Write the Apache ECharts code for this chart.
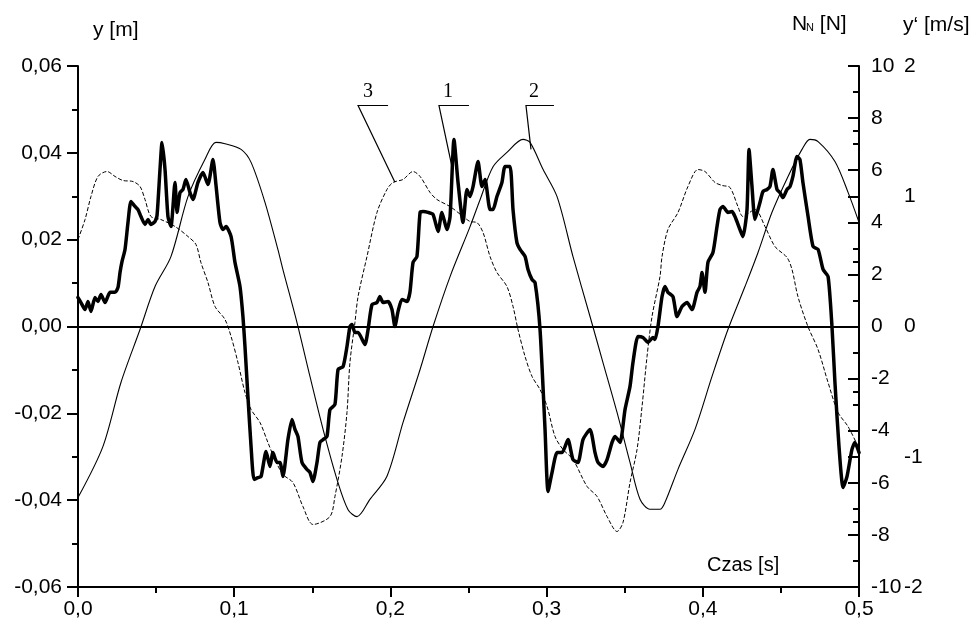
<!DOCTYPE html>
<html><head><meta charset="utf-8">
<script src="https://cdn.jsdelivr.net/npm/echarts@6/dist/echarts.min.js"></script>
<style>html,body{margin:0;padding:0;background:#fff}#c{width:976px;height:625px}</style>
</head><body><div id="c"></div>
<script>
// ---- Data ----
// Curve 1: normal force N_N [N] (thick line)
const timeForce = [0,0.0019,0.0045,0.0064,0.0083,0.0109,0.0128,0.0147,0.0173,0.0205,0.0237,0.0256,0.0269,0.0282,0.0301,0.0320,0.0339,0.0365,0.0384,0.0403,0.0429,0.0448,0.0467,0.0493,0.0506,0.0525,0.0538,0.0557,0.0576,0.0595,0.0621,0.0634,0.0653,0.0672,0.0691,0.0717,0.0736,0.0768,0.0800,0.0832,0.0864,0.0883,0.0909,0.0928,0.0948,0.0980,0.1005,0.1037,0.1056,0.1069,0.1088,0.1108,0.1127,0.1152,0.1172,0.1204,0.1229,0.1248,0.1274,0.1293,0.1312,0.1344,0.1370,0.1389,0.1408,0.1434,0.1466,0.1485,0.1504,0.1530,0.1549,0.1569,0.1594,0.1613,0.1645,0.1665,0.1697,0.1722,0.1741,0.1754,0.1773,0.1793,0.1837,0.1857,0.1882,0.1914,0.1933,0.1953,0.1985,0.2010,0.2029,0.2049,0.2074,0.2106,0.2125,0.2145,0.2170,0.2190,0.2209,0.2241,0.2273,0.2305,0.2330,0.2362,0.2382,0.2407,0.2433,0.2465,0.2490,0.2510,0.2529,0.2561,0.2586,0.2606,0.2638,0.2657,0.2682,0.2714,0.2734,0.2766,0.2785,0.2810,0.2830,0.2862,0.2881,0.2907,0.2926,0.2958,0.2990,0.3009,0.3035,0.3067,0.3099,0.3137,0.3169,0.3201,0.3233,0.3278,0.3310,0.3329,0.3361,0.3387,0.3419,0.3438,0.3470,0.3502,0.3534,0.3553,0.3585,0.3617,0.3649,0.3681,0.3694,0.3713,0.3739,0.3758,0.3777,0.3809,0.3835,0.3867,0.3899,0.3931,0.3963,0.3982,0.3995,0.4014,0.4033,0.4065,0.4091,0.4110,0.4129,0.4161,0.4187,0.4206,0.4238,0.4257,0.4283,0.4296,0.4315,0.4334,0.4366,0.4385,0.4411,0.4430,0.4449,0.4475,0.4494,0.4513,0.4539,0.4558,0.4577,0.4603,0.4622,0.4641,0.4674,0.4706,0.4738,0.4770,0.4802,0.4827,0.4846,0.4872,0.4898,0.4923,0.4955,0.4974,0.5000];
const forceN = [1.11,0.92,0.65,0.96,0.58,1.11,0.96,1.23,0.92,1.31,1.31,1.50,2.07,2.50,2.96,3.99,4.80,4.61,4.49,4.22,3.92,4.11,3.92,4.03,4.26,6.03,7.06,6.03,4.22,3.84,5.53,4.38,5.14,5.26,5.64,5.14,4.88,5.53,5.91,5.45,6.41,5.45,3.99,3.72,3.84,3.45,2.46,1.54,0.38,-0.77,-2.69,-4.61,-5.87,-5.80,-5.76,-4.80,-5.37,-4.84,-5.22,-5.22,-5.76,-4.34,-3.57,-3.95,-4.22,-5.22,-5.49,-5.60,-5.95,-5.22,-4.45,-4.34,-4.22,-3.19,-2.99,-1.65,-1.54,-0.77,0.00,0.08,-0.23,-0.23,-0.69,-0.12,0.84,0.92,1.15,0.92,0.96,0.65,0.00,0.58,1.04,0.96,1.31,2.46,2.69,4.38,4.41,4.38,4.30,3.65,4.38,3.72,4.22,7.18,5.53,3.99,5.26,4.99,5.37,6.33,5.37,5.64,4.49,4.49,4.99,5.53,6.14,6.14,4.49,3.22,2.96,2.69,2.19,1.80,1.69,-0.12,-3.95,-6.33,-5.60,-4.84,-4.84,-4.34,-5.11,-5.22,-4.34,-3.95,-4.84,-5.22,-5.37,-5.11,-4.45,-4.22,-4.45,-3.19,-2.30,-1.38,-0.38,-0.42,-0.61,-0.42,-0.50,0.00,1.15,1.54,1.31,1.15,0.38,0.77,0.92,0.65,1.31,1.54,2.07,1.31,2.46,2.84,3.84,4.49,4.61,4.38,4.41,4.22,3.72,3.45,4.49,6.79,5.37,4.11,4.76,5.18,5.26,5.37,6.03,5.26,5.14,4.95,5.26,5.37,5.76,6.53,6.41,5.53,4.22,3.07,2.96,2.19,1.92,0.00,-2.15,-4.61,-6.18,-5.76,-4.72,-4.45,-4.84];

// Curve 2: displacement y [m] (thin solid line)
const timeDisp = [0,0.016,0.0275,0.0397,0.0493,0.0595,0.0704,0.0813,0.0883,0.0941,0.1044,0.1108,0.1197,0.1280,0.1312,0.1402,0.1485,0.1569,0.1658,0.1729,0.1786,0.1869,0.1978,0.2081,0.2190,0.2273,0.2382,0.2510,0.2574,0.2657,0.2746,0.2849,0.2894,0.2977,0.3067,0.3169,0.3278,0.3361,0.3451,0.3534,0.3598,0.3662,0.3726,0.3758,0.3841,0.3950,0.4059,0.4161,0.4270,0.4353,0.4443,0.4545,0.4635,0.4686,0.4738,0.4846,0.4930,0.5];
const dispY = [-0.0394,-0.0276,-0.0129,-0.0007,0.0092,0.0161,0.0299,0.0385,0.0424,0.0421,0.0408,0.0378,0.0286,0.0177,0.0131,0.0009,-0.0115,-0.0237,-0.0352,-0.0422,-0.0438,-0.0398,-0.0345,-0.0221,-0.0099,0,0.0115,0.0230,0.0292,0.0368,0.0401,0.0431,0.0424,0.0362,0.0299,0.0161,0.0023,-0.0083,-0.0198,-0.0313,-0.0398,-0.0421,-0.0421,-0.0405,-0.0329,-0.0237,-0.0115,-0.0007,0.0092,0.0170,0.0263,0.0345,0.0408,0.0431,0.0426,0.0380,0.0309,0.0240];

// Curve 3: velocity y' [m/s] (dashed line)
const timeVel = [0,0.0045,0.0083,0.0128,0.0186,0.0237,0.0288,0.0352,0.0397,0.0429,0.0467,0.0531,0.0621,0.0704,0.0755,0.0787,0.0832,0.0877,0.0941,0.0980,0.1024,0.1069,0.1108,0.1165,0.1216,0.1261,0.1312,0.1376,0.1440,0.1505,0.1613,0.1645,0.1690,0.1722,0.1741,0.1773,0.1793,0.1850,0.1914,0.1978,0.2017,0.2081,0.2145,0.2190,0.2254,0.2298,0.2382,0.2465,0.2510,0.2554,0.2593,0.2638,0.2682,0.2746,0.2785,0.2817,0.2862,0.2907,0.2958,0.3003,0.3054,0.3105,0.3169,0.3259,0.3323,0.3387,0.3451,0.3489,0.3534,0.3579,0.3611,0.3643,0.3675,0.3726,0.3739,0.3777,0.3841,0.3905,0.3969,0.4014,0.4078,0.4123,0.4174,0.4225,0.4257,0.4334,0.4398,0.4462,0.4539,0.4571,0.4609,0.4673,0.4738,0.4802,0.4866,0.4930,0.4994];
const velY = [0.668,0.821,0.998,1.152,1.190,1.152,1.121,1.113,1.075,0.975,0.845,0.821,0.768,0.691,0.630,0.491,0.338,0.154,0.054,-0.077,-0.276,-0.507,-0.637,-0.737,-0.891,-1.021,-1.136,-1.198,-1.382,-1.520,-1.459,-1.305,-0.998,-0.660,-0.276,0.031,0.230,0.537,0.875,1.052,1.106,1.129,1.190,1.152,1.029,0.975,0.921,0.845,0.806,0.798,0.722,0.537,0.415,0.307,0.154,-0.023,-0.230,-0.384,-0.484,-0.614,-0.845,-0.944,-1.021,-1.228,-1.305,-1.459,-1.574,-1.505,-1.198,-0.944,-0.614,-0.230,0.077,0.384,0.537,0.745,0.875,1.075,1.205,1.190,1.106,1.083,1.067,0.921,0.845,0.898,0.768,0.614,0.530,0.438,0.230,0.000,-0.177,-0.430,-0.660,-0.768,-0.921];

// Curve annotations (in data coordinates: time [s], y [m])
const annoLabels = ['3', '1', '2'];
const annoTextAt = [[0.1857, 0.0541], [0.2368, 0.0541], [0.2919, 0.0541]];
const annoLeaders = [
  [[0.1985, 0.0509], [0.1793, 0.0509], [0.2029, 0.0332]],
  [[0.2503, 0.0509], [0.2311, 0.0509], [0.2394, 0.0368]],
  [[0.3047, 0.0509], [0.2868, 0.0509], [0.2900, 0.0408]]
];

// ---- Chart ----
const FONT = 'Liberation Sans';
const pair = (xs, ys) => xs.map((x, i) => [x, ys[i]]);
const chart = echarts.init(document.getElementById('c'), null, {renderer: 'canvas'});
const black = '#000';
const lineBlack = {color: black, width: 2};

chart.setOption({
  animation: false,
  backgroundColor: '#fff',
  grid: {left: 78, right: 117, top: 66, bottom: 38},
  xAxis: {
    type: 'value', min: 0, max: 0.5, interval: 0.1,
    axisLine: {show: true, onZero: false, lineStyle: lineBlack},
    axisTick: {show: true, length: 10, lineStyle: lineBlack},
    minorTick: {show: true, splitNumber: 2, length: 6, lineStyle: lineBlack},
    splitLine: {show: false},
    axisLabel: {color: black, fontSize: 21, fontFamily: FONT, margin: 12,
      formatter: v => v.toFixed(1).replace('.', ',')}
  },
  yAxis: [
    {
      type: 'value', min: -0.06, max: 0.06, interval: 0.02, position: 'left',
      axisLine: {show: true, onZero: false, lineStyle: lineBlack},
      axisTick: {show: true, length: 11, lineStyle: lineBlack},
      minorTick: {show: true, splitNumber: 2, length: 6, lineStyle: lineBlack},
      splitLine: {show: false},
      axisLabel: {color: black, fontSize: 21, fontFamily: FONT, margin: 16,
        formatter: v => v.toFixed(2).replace('.', ',')}
    },
    {
      type: 'value', min: -10, max: 10, interval: 2, position: 'right',
      axisLine: {show: true, onZero: false, lineStyle: lineBlack},
      axisTick: {show: true, inside: true, length: 11, lineStyle: lineBlack},
      minorTick: {show: true, splitNumber: 2, length: 6, lineStyle: lineBlack},
      splitLine: {show: false},
      axisLabel: {color: black, fontSize: 21, fontFamily: FONT, margin: 12,
        formatter: v => String(Math.round(v))}
    },
    {
      type: 'value', min: -2, max: 2, interval: 1, position: 'right', offset: 0,
      axisLine: {show: false, onZero: false},
      axisTick: {show: true, inside: true, length: 11, lineStyle: lineBlack},
      minorTick: {show: true, splitNumber: 2, length: 6, lineStyle: lineBlack},
      splitLine: {show: false},
      axisLabel: {color: black, fontSize: 21, fontFamily: FONT, margin: 45,
        formatter: v => String(Math.round(v))}
    }
  ],
  series: [
    {
      name: '2', type: 'line', yAxisIndex: 0, data: pair(timeDisp, dispY),
      showSymbol: false, smooth: 0.3, silent: true,
      lineStyle: {color: black, width: 1.1},
      markLine: {
        silent: true, symbol: 'none', label: {show: false},
        lineStyle: {color: black, width: 2, type: 'solid'},
        data: [{yAxis: 0}]
      }
    },
    {
      name: '3', type: 'line', yAxisIndex: 2, data: pair(timeVel, velY),
      showSymbol: false, smooth: 0.3, silent: true,
      lineStyle: {color: black, width: 1, type: [4, 2]}
    },
    {
      name: '1', type: 'line', yAxisIndex: 1, data: pair(timeForce, forceN),
      showSymbol: false, smooth: 0.2, silent: true,
      lineStyle: {color: black, width: 3.5, join: 'round', cap: 'round'}
    }
  ]
});

// Axis titles and curve annotations
const toPx = p => chart.convertToPixel({xAxisIndex: 0, yAxisIndex: 0}, p);
const titleStyle = (txt, size) => ({text: txt, fill: black, font: size + 'px "' + FONT + '"', textVerticalAlign: 'middle'});
const graphics = [
  {type: 'text', left: 93, top: 20, style: {text: 'y [m]', fill: black, font: '21px "' + FONT + '"'}},
  {type: 'text', x: 792, y: 24, style: titleStyle('N', 21)},
  {type: 'text', x: 806, y: 28, style: titleStyle('N', 11)},
  {type: 'text', x: 814, y: 24, style: titleStyle(' [N]', 21)},
  {type: 'text', x: 903, y: 25, style: titleStyle('y\u2018 [m/s]', 21)},
  {type: 'text', x: 707, y: 565, style: titleStyle('Czas [s]', 20)}
];
annoLabels.forEach((lab, i) => {
  const p = toPx(annoTextAt[i]);
  graphics.push({type: 'text', x: p[0], y: p[1],
    style: {text: lab, fill: black, font: '20px "Liberation Serif"', textAlign: 'center', textVerticalAlign: 'middle'}});
  graphics.push({type: 'polyline', shape: {points: annoLeaders[i].map(toPx)},
    style: {stroke: black, lineWidth: 1.2, fill: null}});
});
chart.setOption({graphic: graphics});
</script></body></html>
